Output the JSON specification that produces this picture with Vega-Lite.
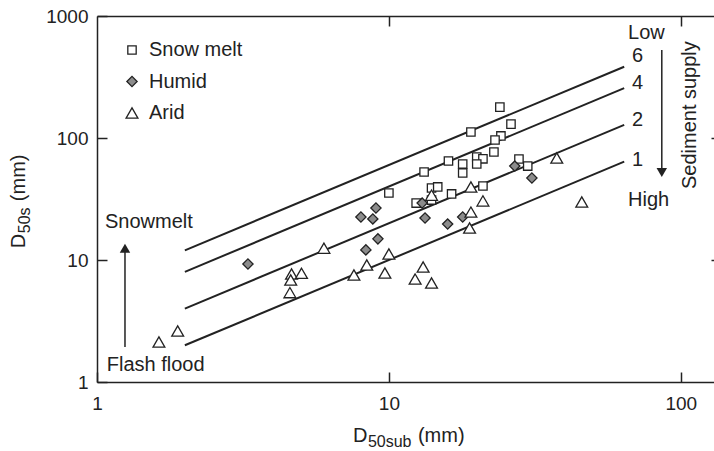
{
  "$schema": "https://vega.github.io/schema/vega-lite/v6.json",
  "width": 618,
  "height": 366,
  "autosize": {"type": "none"},
  "padding": {"left": 97, "top": 16, "right": 0, "bottom": 69},
  "background": "white",
  "config": {
    "view": {"stroke": null},
    "font": "Liberation Sans",
    "axis": {
      "grid": false,
      "domainColor": "#222222",
      "domainWidth": 1.5,
      "tickColor": "#222222",
      "tickWidth": 1.5,
      "tickSize": -10,
      "labelFont": "Liberation Sans",
      "labelFontSize": 19,
      "labelColor": "#222222",
      "labelFlush": false,
      "title": null
    },
    "legend": {
      "padding": 0,
      "labelFont": "Liberation Sans",
      "labelFontSize": 20,
      "labelColor": "#222222",
      "labelOffset": 7,
      "rowPadding": 11.5,
      "symbolStrokeWidth": 1.3,
      "symbolStrokeColor": "#222222"
    }
  },
  "resolve": {"axis": {"x": "independent", "y": "independent"}},
  "datasets": {
    "points": [
      {"climate": "Snow melt", "d50sub": 10.0, "d50s": 35.4},
      {"climate": "Snow melt", "d50sub": 19.1, "d50s": 112},
      {"climate": "Snow melt", "d50sub": 16.0, "d50s": 64.8},
      {"climate": "Snow melt", "d50sub": 13.2, "d50s": 52.6},
      {"climate": "Snow melt", "d50sub": 17.9, "d50s": 61.2},
      {"climate": "Snow melt", "d50sub": 17.9, "d50s": 51.7},
      {"climate": "Snow melt", "d50sub": 20.0, "d50s": 69.9},
      {"climate": "Snow melt", "d50sub": 21.0, "d50s": 67.5},
      {"climate": "Snow melt", "d50sub": 20.0, "d50s": 61.2},
      {"climate": "Snow melt", "d50sub": 14.0, "d50s": 38.9},
      {"climate": "Snow melt", "d50sub": 14.7, "d50s": 39.7},
      {"climate": "Snow melt", "d50sub": 14.0, "d50s": 31.0},
      {"climate": "Snow melt", "d50sub": 12.4, "d50s": 29.3},
      {"climate": "Snow melt", "d50sub": 16.4, "d50s": 34.8},
      {"climate": "Snow melt", "d50sub": 21.0, "d50s": 40.4},
      {"climate": "Snow melt", "d50sub": 24.0, "d50s": 179},
      {"climate": "Snow melt", "d50sub": 26.2, "d50s": 130},
      {"climate": "Snow melt", "d50sub": 24.2, "d50s": 104},
      {"climate": "Snow melt", "d50sub": 23.1, "d50s": 96.3},
      {"climate": "Snow melt", "d50sub": 22.9, "d50s": 76.8},
      {"climate": "Snow melt", "d50sub": 27.9, "d50s": 67.3},
      {"climate": "Snow melt", "d50sub": 29.9, "d50s": 58.9},
      {"climate": "Humid", "d50sub": 3.29, "d50s": 9.27},
      {"climate": "Humid", "d50sub": 8.02, "d50s": 22.5},
      {"climate": "Humid", "d50sub": 9.03, "d50s": 26.7},
      {"climate": "Humid", "d50sub": 8.81, "d50s": 21.7},
      {"climate": "Humid", "d50sub": 9.17, "d50s": 14.9},
      {"climate": "Humid", "d50sub": 8.34, "d50s": 12.1},
      {"climate": "Humid", "d50sub": 13.0, "d50s": 29.3},
      {"climate": "Humid", "d50sub": 13.3, "d50s": 22.1},
      {"climate": "Humid", "d50sub": 15.9, "d50s": 19.7},
      {"climate": "Humid", "d50sub": 17.9, "d50s": 22.5},
      {"climate": "Humid", "d50sub": 27.0, "d50s": 58.9},
      {"climate": "Humid", "d50sub": 30.9, "d50s": 47.0},
      {"climate": "Arid", "d50sub": 1.63, "d50s": 2.13},
      {"climate": "Arid", "d50sub": 1.89, "d50s": 2.62},
      {"climate": "Arid", "d50sub": 4.64, "d50s": 7.68},
      {"climate": "Arid", "d50sub": 5.02, "d50s": 7.78},
      {"climate": "Arid", "d50sub": 4.61, "d50s": 6.85},
      {"climate": "Arid", "d50sub": 4.58, "d50s": 5.40},
      {"climate": "Arid", "d50sub": 5.99, "d50s": 12.5},
      {"climate": "Arid", "d50sub": 7.59, "d50s": 7.54},
      {"climate": "Arid", "d50sub": 8.4, "d50s": 9.1},
      {"climate": "Arid", "d50sub": 10.0, "d50s": 11.2},
      {"climate": "Arid", "d50sub": 9.69, "d50s": 7.82},
      {"climate": "Arid", "d50sub": 13.1, "d50s": 8.77},
      {"climate": "Arid", "d50sub": 12.3, "d50s": 6.98},
      {"climate": "Arid", "d50sub": 14.0, "d50s": 6.48},
      {"climate": "Arid", "d50sub": 14.0, "d50s": 34.0},
      {"climate": "Arid", "d50sub": 19.1, "d50s": 39.7},
      {"climate": "Arid", "d50sub": 21.0, "d50s": 30.5},
      {"climate": "Arid", "d50sub": 19.1, "d50s": 24.7},
      {"climate": "Arid", "d50sub": 18.9, "d50s": 18.3},
      {"climate": "Arid", "d50sub": 37.6, "d50s": 68.6},
      {"climate": "Arid", "d50sub": 45.8, "d50s": 29.9}
    ],
    "lines": [
      {"ratio": "6", "x": 2, "y": 12}, {"ratio": "6", "x": 64, "y": 384},
      {"ratio": "4", "x": 2, "y": 8}, {"ratio": "4", "x": 64, "y": 256},
      {"ratio": "2", "x": 2, "y": 4}, {"ratio": "2", "x": 64, "y": 128},
      {"ratio": "1", "x": 2, "y": 2}, {"ratio": "1", "x": 64, "y": 64}
    ],
    "lineLabels": [
      {"label": "6", "x": 68, "y": 470},
      {"label": "4", "x": 68, "y": 282},
      {"label": "2", "x": 68, "y": 140.5},
      {"label": "1", "x": 68, "y": 66}
    ],
    "notes": [
      {"label": "Low", "x": 66, "y": 720},
      {"label": "High", "x": 66, "y": 31},
      {"label": "Snowmelt", "x": 1.065, "y": 20.5},
      {"label": "Flash flood", "x": 1.08, "y": 1.38}
    ],
    "sideNote": [
      {"label": "Sediment supply", "x": 107.4, "y": 154}
    ],
    "arrows": [
      {"arrow": "supply", "x": 86.1, "y": 526},
      {"arrow": "supply", "x": 86.1, "y": 56},
      {"arrow": "snow", "x": 1.247, "y": 1.94},
      {"arrow": "snow", "x": 1.247, "y": 12.0}
    ],
    "headDown": [{"x": 86.1, "y": 52.2}],
    "headUp": [{"x": 1.247, "y": 12.5}],
    "titles": [
      {"axis": "x", "x": 7.53, "y": 0.322, "main": "D", "sub": "50sub", "unit": "(mm)"},
      {"axis": "y", "x": 0.567, "y": 12.5, "main": "D", "sub": "50s", "unit": "(mm)"}
    ]
  },
  "layer": [
    {
      "data": {"name": "lines"},
      "mark": {"type": "line", "color": "#222222", "strokeWidth": 2},
      "encoding": {
        "x": {"field": "x", "type": "quantitative", "scale": {"type": "log", "domain": [1, 131], "nice": false},
              "axis": {"orient": "top", "labels": false, "values": [10, 100]}},
        "y": {"field": "y", "type": "quantitative", "scale": {"type": "log", "domain": [1, 1000], "nice": false},
              "axis": {"orient": "right", "labels": false, "values": [10, 100], "tickSize": -4}},
        "detail": {"field": "ratio"}
      }
    },
    {
      "data": {"name": "arrows"},
      "mark": {"type": "line", "color": "#222222", "strokeWidth": 1.5},
      "encoding": {
        "x": {"field": "x", "type": "quantitative", "scale": {"type": "log"}, "axis": null},
        "y": {"field": "y", "type": "quantitative", "scale": {"type": "log"}, "axis": null},
        "detail": {"field": "arrow"}
      }
    },
    {
      "data": {"name": "headDown"},
      "mark": {"type": "point", "shape": "triangle-down", "filled": true, "color": "#222222", "opacity": 1, "size": 110},
      "encoding": {
        "x": {"field": "x", "type": "quantitative", "scale": {"type": "log"}, "axis": null},
        "y": {"field": "y", "type": "quantitative", "scale": {"type": "log"}, "axis": null}
      }
    },
    {
      "data": {"name": "headUp"},
      "mark": {"type": "point", "shape": "triangle-up", "filled": true, "color": "#222222", "opacity": 1, "size": 110},
      "encoding": {
        "x": {"field": "x", "type": "quantitative", "scale": {"type": "log"}, "axis": null},
        "y": {"field": "y", "type": "quantitative", "scale": {"type": "log"}, "axis": null}
      }
    },
    {
      "data": {"name": "lineLabels"},
      "mark": {"type": "text", "align": "left", "baseline": "middle", "fontSize": 20, "color": "#222222", "font": "Liberation Sans"},
      "encoding": {
        "x": {"field": "x", "type": "quantitative", "scale": {"type": "log"}, "axis": null},
        "y": {"field": "y", "type": "quantitative", "scale": {"type": "log"}, "axis": null},
        "text": {"field": "label"}
      }
    },
    {
      "data": {"name": "notes"},
      "mark": {"type": "text", "align": "left", "baseline": "middle", "fontSize": 20, "color": "#222222", "font": "Liberation Sans"},
      "encoding": {
        "x": {"field": "x", "type": "quantitative", "scale": {"type": "log"}, "axis": null},
        "y": {"field": "y", "type": "quantitative", "scale": {"type": "log"}, "axis": null},
        "text": {"field": "label"}
      }
    },
    {
      "data": {"name": "sideNote"},
      "mark": {"type": "text", "align": "center", "baseline": "middle", "angle": 270, "fontSize": 20, "color": "#222222", "font": "Liberation Sans"},
      "encoding": {
        "x": {"field": "x", "type": "quantitative", "scale": {"type": "log"}, "axis": null},
        "y": {"field": "y", "type": "quantitative", "scale": {"type": "log"}, "axis": null},
        "text": {"field": "label"}
      }
    },
    {
      "data": {"name": "titles"},
      "mark": {"type": "text", "align": "left", "baseline": "alphabetic", "fontSize": 20, "color": "#222222", "font": "Liberation Sans"},
      "encoding": {
        "x": {"field": "x", "type": "quantitative", "scale": {"type": "log"}, "axis": null},
        "y": {"field": "y", "type": "quantitative", "scale": {"type": "log"}, "axis": null},
        "angle": {"condition": {"test": "datum.axis === 'y'", "value": 270}, "value": 0},
        "text": {"field": "main"}
      }
    },
    {
      "data": {"name": "titles"},
      "mark": {"type": "text", "align": "left", "baseline": "alphabetic", "fontSize": 16, "dx": 15, "dy": 5, "color": "#222222", "font": "Liberation Sans"},
      "encoding": {
        "x": {"field": "x", "type": "quantitative", "scale": {"type": "log"}, "axis": null},
        "y": {"field": "y", "type": "quantitative", "scale": {"type": "log"}, "axis": null},
        "angle": {"condition": {"test": "datum.axis === 'y'", "value": 270}, "value": 0},
        "text": {"field": "sub"}
      }
    },
    {
      "data": {"name": "titles"},
      "transform": [{"filter": "datum.axis === 'x'"}],
      "mark": {"type": "text", "align": "left", "baseline": "alphabetic", "fontSize": 20, "dx": 65, "color": "#222222", "font": "Liberation Sans"},
      "encoding": {
        "x": {"field": "x", "type": "quantitative", "scale": {"type": "log"}, "axis": null},
        "y": {"field": "y", "type": "quantitative", "scale": {"type": "log"}, "axis": null},
        "text": {"field": "unit"}
      }
    },
    {
      "data": {"name": "titles"},
      "transform": [{"filter": "datum.axis === 'y'"}],
      "mark": {"type": "text", "align": "left", "baseline": "alphabetic", "fontSize": 20, "dx": 47, "angle": 270, "color": "#222222", "font": "Liberation Sans"},
      "encoding": {
        "x": {"field": "x", "type": "quantitative", "scale": {"type": "log"}, "axis": null},
        "y": {"field": "y", "type": "quantitative", "scale": {"type": "log"}, "axis": null},
        "text": {"field": "unit"}
      }
    },
    {
      "data": {"name": "points"},
      "mark": {"type": "point", "strokeWidth": 1.3, "opacity": 1},
      "encoding": {
        "x": {"field": "d50sub", "type": "quantitative", "scale": {"type": "log"},
              "axis": {"orient": "bottom", "values": [1, 10, 100], "format": "d", "labelPadding": 22}},
        "y": {"field": "d50s", "type": "quantitative", "scale": {"type": "log"},
              "axis": {"orient": "left", "values": [1, 10, 100, 1000], "format": "d", "labelPadding": 19}},
        "shape": {"field": "climate", "type": "nominal",
                  "scale": {"domain": ["Snow melt", "Humid", "Arid"], "range": ["square", "diamond", "triangle-up"]},
                  "legend": {"title": null, "orient": "none", "legendX": 25, "legendY": 24}},
        "fill": {"field": "climate", "type": "nominal",
                 "scale": {"domain": ["Snow melt", "Humid", "Arid"], "range": ["#ffffff", "#8c8c8c", "#ffffff"]},
                 "legend": {"title": null, "orient": "none", "legendX": 25, "legendY": 24}},
        "stroke": {"field": "climate", "type": "nominal",
                   "scale": {"domain": ["Snow melt", "Humid", "Arid"], "range": ["#222222", "#222222", "#222222"]},
                   "legend": {"title": null, "orient": "none", "legendX": 25, "legendY": 24}},
        "size": {"field": "climate", "type": "nominal",
                 "scale": {"domain": ["Snow melt", "Humid", "Arid"], "range": [70, 140, 110]},
                 "legend": {"title": null, "orient": "none", "legendX": 25, "legendY": 24}}
      }
    }
  ]
}
